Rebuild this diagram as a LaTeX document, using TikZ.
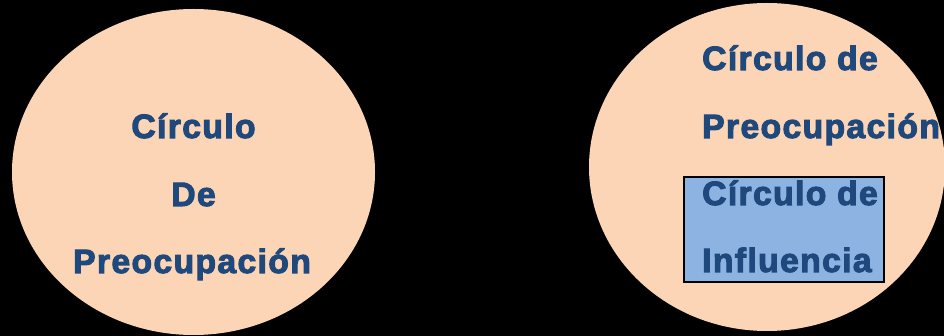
\documentclass[tikz,border=0pt]{standalone}
\usepackage{fontspec}
\setmainfont{Liberation Sans}
\newfontfamily\heavyfont[FakeBold=3,LetterSpace=4]{Liberation Sans Bold}
\usetikzlibrary{shapes.geometric}
\definecolor{peach}{HTML}{FBD5B5}
\definecolor{txtblue}{HTML}{1F497D}
\definecolor{boxblue}{HTML}{8DB3E2}
\tikzset{
  circ/.style={ellipse,fill=peach,draw=none,inner sep=0pt},
  lbl/.style={text=txtblue,font=\heavyfont\fontsize{33.7}{33.7}\selectfont,inner sep=0pt},
  infl/.style={rectangle,fill=boxblue,draw=black,line width=1.5pt,inner sep=0pt}
}
\begin{document}
\begin{tikzpicture}[x=1pt,y=-1pt]
\fill[black] (0,0) rectangle (944,336);
\useasboundingbox (0,0) rectangle (944,336);
\node[circ,minimum width=363pt,minimum height=326pt] (c1) at (193.5,172) {};
\node[circ,minimum width=356pt,minimum height=328pt] (c2) at (767,167) {};
\node[infl,minimum width=200pt,minimum height=105pt] (b) at (784,229.5) {};
\node[lbl,anchor=base] (l1) at (193.5,138) {Círculo};
\node[lbl,anchor=base] (l2) at (193.5,206) {De};
\node[lbl,anchor=base] (l3) at (192,273) {Preocupación};
\node[lbl,anchor=base west] (r1) at (702,70) {Círculo de};
\node[lbl,anchor=base west] (r2) at (702,138) {Preocupación};
\node[lbl,anchor=base west] (r3) at (702,205) {Círculo de};
\node[lbl,anchor=base west] (r4) at (702,272) {Influencia};
\end{tikzpicture}
\end{document}
